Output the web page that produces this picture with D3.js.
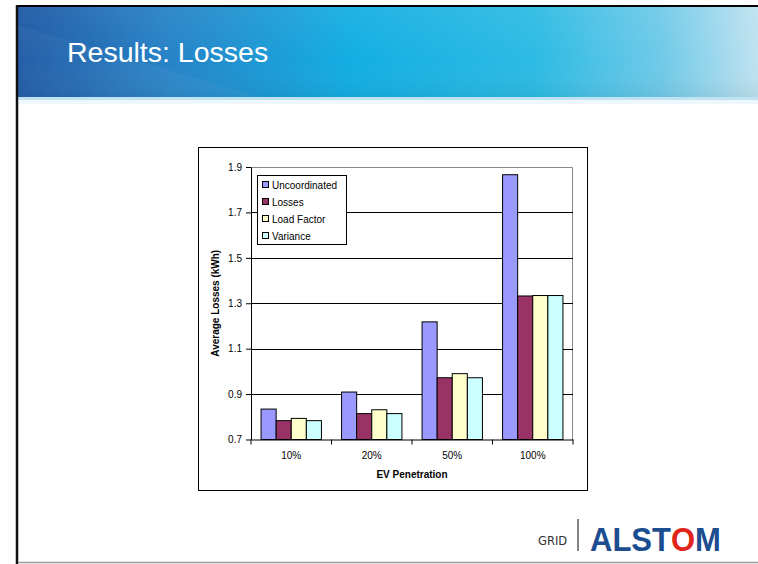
<!DOCTYPE html>
<html><head><meta charset="utf-8">
<script src="https://cdn.jsdelivr.net/npm/d3@7"></script>
<style>body{margin:0;background:#fff;}svg{display:block;font-family:Arial,"Liberation Sans",sans-serif;}</style>
</head><body>
<svg id="c" width="758" height="564"></svg>
<script>
const categories = ["10%", "20%", "50%", "100%"];
const seriesNames = ["Uncoordinated", "Losses", "Load Factor", "Variance"];
const uncoordinated = [0.834, 0.909, 1.218, 1.866];
const losses = [0.783, 0.814, 0.972, 1.332];
const loadFactor = [0.793, 0.831, 0.990, 1.334];
const variance = [0.783, 0.814, 0.972, 1.334];
const yTicks = [0.7, 0.9, 1.1, 1.3, 1.5, 1.7, 1.9];
const colors = ["#9999ff", "#993366", "#ffffcc", "#ccffff"];
const seriesValues = [uncoordinated, losses, loadFactor, variance];

(function(){
const svg = d3.select("#c");
const defs = svg.append("defs");
const g1 = defs.append("linearGradient").attr("id","hdr").attr("x1","0").attr("x2","1").attr("y1","0").attr("y2","0");
[[0,"#1d58a4"],[0.2,"#2782c6"],[0.45,"#14aee2"],[0.7,"#2dbbe4"],[0.87,"#70cae8"],[1,"#bfe2f0"]]
  .forEach(s=>g1.append("stop").attr("offset",s[0]).attr("stop-color",s[1]));
const g2 = defs.append("linearGradient").attr("id","hdrv").attr("x1","0").attr("x2","0").attr("y1","0").attr("y2","1");
[[0,"#ffffff",0.06],[0.6,"#ffffff",0],[1,"#000000",0.05]].forEach(s=>g2.append("stop").attr("offset",s[0]).attr("stop-color",s[1]).attr("stop-opacity",s[2]));

// slide header
svg.append("rect").attr("x",17).attr("y",6).attr("width",741).attr("height",91).attr("fill","url(#hdr)");
svg.append("rect").attr("x",17).attr("y",6).attr("width",741).attr("height",91).attr("fill","url(#hdrv)");
svg.append("path").attr("d","M17,25 L260,97 L17,97 Z").attr("fill","#ffffff").attr("opacity",0.04);
svg.append("rect").attr("x",17).attr("y",97).attr("width",741).attr("height",3).attr("fill","#bfe3f2");
svg.append("rect").attr("x",17).attr("y",100).attr("width",741).attr("height",4).attr("fill","#eef7fb");
svg.append("text").attr("x",67).attr("y",62).attr("fill","#ffffff").attr("font-size",28.5).text("Results: Losses");
// slide frame
svg.append("line").attr("x1",16).attr("x2",758).attr("y1",6).attr("y2",6).attr("stroke","#000").attr("stroke-width",2);
svg.append("line").attr("x1",17).attr("x2",17).attr("y1",5).attr("y2",564).attr("stroke","#111").attr("stroke-width",2.5);
svg.append("line").attr("x1",18).attr("x2",758).attr("y1",562.5).attr("y2",562.5).attr("stroke","#999").attr("stroke-width",1.5);

// chart frame
svg.append("rect").attr("x",198.5).attr("y",147.5).attr("width",389).attr("height",343).attr("fill","#fff").attr("stroke","#000").attr("stroke-width",1);

const pLeft = 251, pRight = 573, pTop = 167, pBottom = 439.5;
const y = d3.scaleLinear().domain([0.7, 1.9]).range([pBottom, pTop]);
const x0 = d3.scaleBand().domain(categories).range([pLeft, pRight]).paddingInner(0.25).paddingOuter(0.125);
const xg = d3.scaleBand().domain(categories).range([pLeft, pRight]);
const x1 = d3.scaleBand().domain(seriesNames).range([0, x0.bandwidth()]);

// plot area border (gray) top & right
svg.append("path").attr("d",`M${pLeft},${pTop+0.5} H${pRight-0.5} V${pBottom}`).attr("fill","none").attr("stroke","#888").attr("stroke-width",1);
// gridlines
svg.append("g").selectAll("line").data(yTicks.filter(v=>v>0.7 && v<1.9)).join("line")
  .attr("x1",pLeft).attr("x2",pRight).attr("y1",d=>Math.round(y(d))+0.5).attr("y2",d=>Math.round(y(d))+0.5)
  .attr("stroke","#000").attr("stroke-width",1);

// bars
const groups = svg.append("g").selectAll("g").data(categories).join("g")
  .attr("transform",c=>`translate(${x0(c)},0)`);
groups.selectAll("rect").data((c,i)=>seriesNames.map((s,j)=>({s, v: seriesValues[j][i], j}))).join("rect")
  .attr("x",d=>x1(d.s)).attr("width",x1.bandwidth())
  .attr("y",d=>y(d.v)).attr("height",d=>y(0.7)-y(d.v))
  .attr("fill",d=>colors[d.j]).attr("stroke","#000").attr("stroke-width",1);

// axes
const yAxis = d3.axisLeft(y).tickValues(yTicks).tickFormat(d3.format(".1f")).tickSize(5).tickSizeOuter(0);
const ya = svg.append("g").attr("transform",`translate(${pLeft},0)`).call(yAxis);
ya.selectAll("text").attr("font-size",10).attr("font-family","Arial").attr("fill","#000").attr("dx",-1);
ya.selectAll("line,path").attr("stroke","#000");

const xAxis = d3.axisBottom(xg).tickSize(0).tickSizeOuter(0);
const xa = svg.append("g").attr("transform",`translate(0,${pBottom})`).call(xAxis);
xa.selectAll("text").attr("font-size",10).attr("font-family","Arial").attr("fill","#000").attr("dy","1.6em");
xa.selectAll("line,path").attr("stroke","#000");
// category separator ticks
svg.append("g").selectAll("line").data(categories.concat(["end"])).join("line")
  .attr("x1",(d,i)=>i<categories.length?xg(d):pRight).attr("x2",(d,i)=>i<categories.length?xg(d):pRight)
  .attr("y1",pBottom).attr("y2",pBottom+5).attr("stroke","#000");

svg.append("text").attr("x",(pLeft+pRight)/2).attr("y",478).attr("text-anchor","middle")
  .attr("font-size",10).attr("font-weight","bold").text("EV Penetration");
svg.append("text").attr("transform",`translate(219,${(pTop+pBottom)/2}) rotate(-90)`).attr("text-anchor","middle")
  .attr("font-size",10).attr("font-weight","bold").text("Average Losses (kWh)");

// legend
const lg = svg.append("g").attr("transform","translate(257,175)");
lg.append("rect").attr("x",0.5).attr("y",0.5).attr("width",89).attr("height",69).attr("fill","#fff").attr("stroke","#000");
const li = lg.selectAll("g").data(seriesNames).join("g").attr("transform",(d,i)=>`translate(5,${10+i*17})`);
li.append("rect").attr("x",0.5).attr("y",-3.5).attr("width",6).attr("height",6).attr("fill",(d,i)=>colors[i]).attr("stroke","#000");
li.append("text").attr("x",10).attr("y",3.5).attr("font-size",10).text(d=>d);

// logo
svg.append("text").attr("x",538).attr("y",545).attr("font-size",11.5).attr("fill","#333").attr("font-family","'DejaVu Sans',Arial").text("GRID");
svg.append("line").attr("x1",578).attr("x2",578).attr("y1",519).attr("y2",551).attr("stroke","#333").attr("stroke-width",1.2);
const logo = svg.append("text").attr("transform","translate(590,551) scale(1,1.1)")
  .attr("font-size",31).attr("font-weight","bold").attr("font-family","Arial,'Liberation Sans'")
  .attr("fill","#1c4d8f");
logo.append("tspan").text("ALST");
logo.append("tspan").attr("fill","#e1251b").text("O");
logo.append("tspan").text("M");
})();
</script>
</body></html>
